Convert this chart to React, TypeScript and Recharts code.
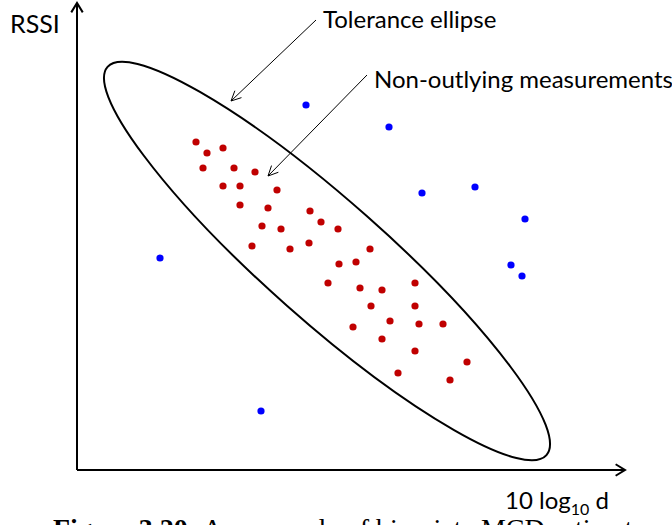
import { ScatterChart, Scatter, XAxis, YAxis, ReferenceDot, ReferenceLine } from "recharts";

// measurements kept inside the tolerance ellipse
const inlierX = [119, 130, 146, 126, 157, 178, 146, 163, 200, 163, 191, 233, 244, 261, 185, 204, 175, 213, 232, 293, 279, 262, 251, 283, 305, 338, 294, 338, 276, 313, 342, 366, 305, 338, 390, 321, 373];
const inlierY = [328, 317, 322, 302, 302, 298, 284, 284, 280, 265, 262, 259, 248, 241, 244, 241, 224, 221, 227, 221, 208, 206, 187, 182, 180, 187, 164, 164, 143, 149, 146, 146, 131, 119, 108, 97, 90];

// outlying measurements
const outlierX = [229, 312, 345, 398, 448, 434, 445, 83, 184];
const outlierY = [365, 343, 277, 283, 251, 205, 194, 212, 59];

const inliers = inlierX.map((x, i) => ({ x, y: inlierY[i] }));
const outliers = outlierX.map((x, i) => ({ x, y: outlierY[i] }));

const X_MAX = 548;
const Y_MAX = 467;

// tolerance ellipse (centre in data units, axes in px since 1 unit = 1 px)
const ellipseCenter = { x: 250, y: 209 };
const ellipseAxes = { rx: 293, ry: 60, angle: 41.5 };

// axis arrows and annotation arrows: [from, to]
const xAxisArrow = [{ x: 0, y: 0 }, { x: X_MAX, y: 0 }];
const yAxisArrow = [{ x: 0, y: 0 }, { x: 0, y: Y_MAX }];
const toleranceArrow = [{ x: 239, y: 450 }, { x: 154, y: 369 }];
const inlierArrow = [{ x: 290, y: 395 }, { x: 191, y: 294 }];

const FONT = "Lato, 'Open Sans', sans-serif";

const Dot = (color: string) => (props: any) => (
  <circle cx={props.cx} cy={props.cy} r={3.6} fill={color} />
);

const arrow = (width: number, len: number, spread: number) => (props: any) => {
  const { x1, y1, x2, y2 } = props;
  const a = Math.atan2(y2 - y1, x2 - x1);
  const hx1 = x2 - len * Math.cos(a - spread);
  const hy1 = y2 - len * Math.sin(a - spread);
  const hx2 = x2 - len * Math.cos(a + spread);
  const hy2 = y2 - len * Math.sin(a + spread);
  return (
    <g stroke="#000" strokeWidth={width} fill="none">
      <line x1={x1} y1={y1} x2={x2} y2={y2} />
      <polyline points={`${hx1},${hy1} ${x2},${y2} ${hx2},${hy2}`} />
    </g>
  );
};

const EllipseShape = (props: any) => (
  <ellipse
    cx={props.cx}
    cy={props.cy}
    rx={ellipseAxes.rx}
    ry={ellipseAxes.ry}
    transform={`rotate(${ellipseAxes.angle} ${props.cx} ${props.cy})`}
    fill="none"
    stroke="#000"
    strokeWidth={2}
  />
);

export default function App() {
  return (
    <div style={{ position: "absolute", left: 0, top: 0, background: "#fff" }}>
      <ScatterChart
        width={672}
        height={525}
        margin={{ top: 3, right: 47, bottom: 55, left: 77 }}
      >
        <XAxis type="number" dataKey="x" domain={[0, X_MAX]} hide />
        <YAxis type="number" dataKey="y" domain={[0, Y_MAX]} hide />
        <ReferenceLine segment={xAxisArrow} ifOverflow="visible" shape={arrow(2, 11, 0.55)} />
        <ReferenceLine segment={yAxisArrow} ifOverflow="visible" shape={arrow(2, 11, 0.55)} />
        <ReferenceDot
          x={ellipseCenter.x}
          y={ellipseCenter.y}
          ifOverflow="visible"
          shape={EllipseShape}
        />
        <ReferenceLine segment={toleranceArrow} ifOverflow="visible" shape={arrow(1, 11, 0.45)} />
        <ReferenceLine segment={inlierArrow} ifOverflow="visible" shape={arrow(1, 11, 0.45)} />
        <Scatter data={inliers} shape={Dot("#C00000")} isAnimationActive={false} />
        <Scatter data={outliers} shape={Dot("#0000FF")} isAnimationActive={false} />

        <text x={10} y={33} fontFamily={FONT} fontSize={25} fill="#000">RSSI</text>
        <text x={323} y={28} fontFamily={FONT} fontSize={24} fill="#000">Tolerance ellipse</text>
        <text x={374} y={88} fontFamily={FONT} fontSize={24} fill="#000">Non-outlying measurements</text>
        <text x={505} y={509} fontFamily={FONT} fontSize={24} fill="#000">
          10 log
          <tspan fontSize={16} dy={6}>10</tspan>
          <tspan dy={-6}> d</tspan>
        </text>
        <text x={53} y={538} fontFamily="'Liberation Serif', serif" fontSize={28} fill="#000">
          <tspan fontWeight="bold">Figure 3.20:</tspan> An example of bivariate MCD estimator
        </text>
      </ScatterChart>
    </div>
  );
}
